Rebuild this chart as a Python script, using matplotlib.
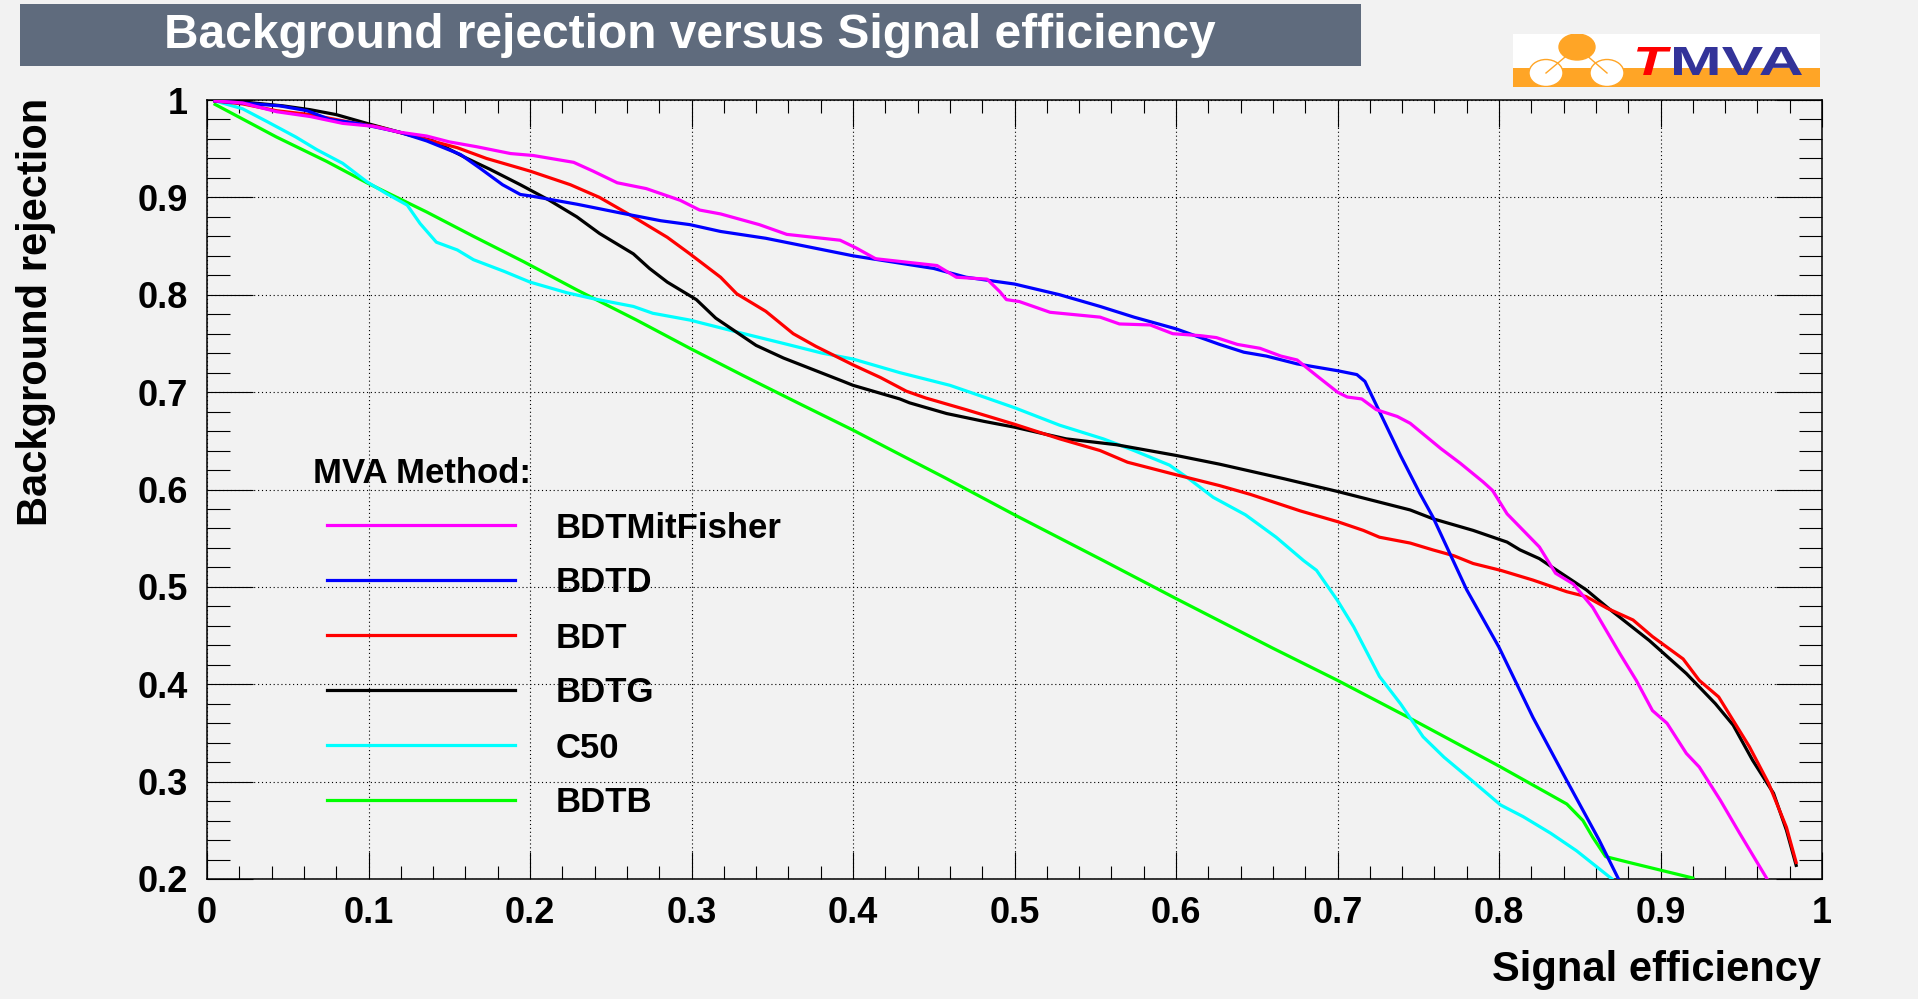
import matplotlib
matplotlib.use("Agg")
import matplotlib.pyplot as plt
from matplotlib.patches import Rectangle, Ellipse, PathPatch
from matplotlib.lines import Line2D
from matplotlib.textpath import TextPath
from matplotlib.font_manager import FontProperties
from matplotlib.transforms import Affine2D
from matplotlib.ticker import MultipleLocator, FuncFormatter

plt.rcParams['font.family'] = ['Liberation Sans', 'DejaVu Sans']
plt.rcParams['font.weight'] = 'bold'

# ROC curves (signal efficiency, background rejection)
fisher_x = [0.005, 0.022, 0.043, 0.064, 0.084, 0.103, 0.119, 0.136, 0.150, 0.167, 0.188, 0.202,
            0.227, 0.239, 0.254, 0.272, 0.293, 0.305, 0.318, 0.342, 0.359, 0.392, 0.402, 0.414,
            0.452, 0.464, 0.483, 0.491, 0.495, 0.503, 0.522, 0.553, 0.565, 0.584, 0.598, 0.615,
            0.625, 0.638, 0.652, 0.665, 0.675, 0.687, 0.700, 0.706, 0.715, 0.724, 0.737, 0.745,
            0.764, 0.776, 0.790, 0.796, 0.805, 0.825, 0.835, 0.846, 0.858, 0.875, 0.885, 0.895,
            0.904, 0.916, 0.924, 0.937, 0.949, 0.966]
fisher_y = [0.999, 0.997, 0.988, 0.983, 0.976, 0.973, 0.967, 0.963, 0.957, 0.952, 0.945, 0.943,
            0.936, 0.927, 0.915, 0.909, 0.897, 0.887, 0.883, 0.872, 0.862, 0.856, 0.848, 0.837,
            0.830, 0.818, 0.816, 0.803, 0.795, 0.793, 0.782, 0.777, 0.770, 0.769, 0.760, 0.758,
            0.756, 0.749, 0.745, 0.737, 0.733, 0.717, 0.700, 0.695, 0.693, 0.682, 0.675, 0.668,
            0.642, 0.627, 0.608, 0.599, 0.575, 0.541, 0.514, 0.503, 0.479, 0.431, 0.404, 0.373,
            0.360, 0.329, 0.315, 0.281, 0.247, 0.200]

bdtd_x = [0.005, 0.045, 0.062, 0.076, 0.093, 0.105, 0.119, 0.136, 0.157, 0.169, 0.183, 0.194,
          0.202, 0.229, 0.256, 0.281, 0.299, 0.318, 0.346, 0.400, 0.450, 0.470, 0.500, 0.528,
          0.553, 0.574, 0.600, 0.627, 0.642, 0.656, 0.675, 0.700, 0.712, 0.717, 0.726, 0.739,
          0.751, 0.759, 0.780, 0.800, 0.821, 0.842, 0.862, 0.874]
bdtd_y = [0.999, 0.994, 0.989, 0.980, 0.976, 0.972, 0.967, 0.958, 0.944, 0.930, 0.913, 0.903,
          0.901, 0.893, 0.884, 0.876, 0.872, 0.865, 0.858, 0.840, 0.827, 0.818, 0.811, 0.800,
          0.788, 0.777, 0.765, 0.749, 0.741, 0.737, 0.729, 0.722, 0.718, 0.711, 0.680, 0.635,
          0.596, 0.572, 0.497, 0.438, 0.366, 0.301, 0.240, 0.200]

bdt_x = [0.005, 0.022, 0.043, 0.064, 0.086, 0.107, 0.130, 0.155, 0.173, 0.200, 0.225, 0.243,
         0.264, 0.285, 0.299, 0.318, 0.328, 0.346, 0.363, 0.377, 0.400, 0.417, 0.433, 0.445,
         0.470, 0.500, 0.528, 0.553, 0.570, 0.598, 0.627, 0.646, 0.677, 0.700, 0.716, 0.726,
         0.745, 0.759, 0.772, 0.784, 0.801, 0.821, 0.842, 0.854, 0.867, 0.883, 0.895, 0.914,
         0.924, 0.936, 0.955, 0.967, 0.978, 0.984]
bdt_y = [0.999, 0.996, 0.989, 0.985, 0.978, 0.972, 0.962, 0.951, 0.940, 0.927, 0.913, 0.900,
         0.880, 0.859, 0.842, 0.818, 0.801, 0.783, 0.760, 0.747, 0.728, 0.715, 0.701, 0.694,
         0.682, 0.667, 0.652, 0.640, 0.628, 0.616, 0.604, 0.595, 0.578, 0.567, 0.558, 0.551,
         0.545, 0.538, 0.532, 0.524, 0.517, 0.507, 0.495, 0.490, 0.478, 0.466, 0.449, 0.426,
         0.404, 0.387, 0.336, 0.298, 0.253, 0.217]

bdtg_x = [0.005, 0.022, 0.047, 0.064, 0.080, 0.099, 0.119, 0.140, 0.161, 0.175, 0.194, 0.212,
          0.229, 0.243, 0.264, 0.274, 0.285, 0.303, 0.315, 0.340, 0.357, 0.394, 0.400, 0.429,
          0.435, 0.458, 0.481, 0.500, 0.532, 0.563, 0.600, 0.627, 0.667, 0.700, 0.745, 0.759,
          0.784, 0.805, 0.813, 0.825, 0.834, 0.854, 0.867, 0.893, 0.916, 0.934, 0.945, 0.957,
          0.970, 0.978, 0.984]
bdtg_y = [0.999, 0.998, 0.994, 0.990, 0.985, 0.976, 0.967, 0.958, 0.940, 0.929, 0.913, 0.897,
          0.880, 0.863, 0.842, 0.827, 0.813, 0.795, 0.776, 0.748, 0.735, 0.711, 0.707, 0.693,
          0.689, 0.678, 0.670, 0.664, 0.652, 0.646, 0.635, 0.626, 0.611, 0.598, 0.579, 0.570,
          0.558, 0.546, 0.538, 0.529, 0.519, 0.497, 0.479, 0.445, 0.411, 0.380, 0.358, 0.322,
          0.288, 0.250, 0.214]

c50_x = [0.005, 0.022, 0.037, 0.055, 0.068, 0.084, 0.099, 0.111, 0.124, 0.132, 0.142, 0.155,
         0.165, 0.184, 0.200, 0.223, 0.239, 0.264, 0.276, 0.299, 0.330, 0.357, 0.381, 0.400,
         0.429, 0.460, 0.481, 0.500, 0.528, 0.555, 0.574, 0.596, 0.608, 0.623, 0.643, 0.662,
         0.679, 0.687, 0.700, 0.710, 0.726, 0.739, 0.753, 0.766, 0.784, 0.801, 0.815, 0.832,
         0.848, 0.870]
c50_y = [0.999, 0.991, 0.978, 0.962, 0.949, 0.935, 0.916, 0.904, 0.892, 0.873, 0.854, 0.846,
         0.836, 0.824, 0.813, 0.802, 0.796, 0.788, 0.781, 0.774, 0.761, 0.750, 0.740, 0.734,
         0.720, 0.707, 0.695, 0.684, 0.666, 0.652, 0.640, 0.625, 0.611, 0.592, 0.574, 0.551,
         0.527, 0.517, 0.486, 0.459, 0.408, 0.380, 0.346, 0.325, 0.300, 0.276, 0.264, 0.247,
         0.229, 0.200]

bdtb_x = [0.005, 0.043, 0.074, 0.099, 0.136, 0.165, 0.196, 0.229, 0.266, 0.299, 0.332, 0.367,
          0.400, 0.429, 0.457, 0.500, 0.555, 0.600, 0.660, 0.700, 0.745, 0.800, 0.842, 0.852,
          0.858, 0.866, 0.883, 0.920]
bdtb_y = [0.9955, 0.962, 0.937, 0.915, 0.885, 0.860, 0.834, 0.805, 0.774, 0.745, 0.717, 0.688,
          0.661, 0.636, 0.612, 0.574, 0.527, 0.488, 0.437, 0.404, 0.365, 0.316, 0.277, 0.260,
          0.243, 0.223, 0.216, 0.201]

methods = ["BDTMitFisher", "BDTD", "BDT", "BDTG", "C50", "BDTB"]
colors = ["#ff00ff", "#0000ff", "#ff0000", "#000000", "#00ffff", "#00ff00"]
curves = [(fisher_x, fisher_y), (bdtd_x, bdtd_y), (bdt_x, bdt_y),
          (bdtg_x, bdtg_y), (c50_x, c50_y), (bdtb_x, bdtb_y)]

W, H = 1918, 999
bg = "#f2f2f2"

fig = plt.figure(figsize=(W / 100, H / 100), dpi=100, facecolor=bg)


def fx(px):
    return px / W


def fy(py):
    return 1 - py / H


# main frame
ax = fig.add_axes([fx(207), fy(879), (1822 - 207) / W, (879 - 100) / H])
ax.set_facecolor(bg)

# draw last legend entry first so BDTMitFisher ends up on top
for (xs, ys), c in reversed(list(zip(curves, colors))):
    ax.plot(xs, ys, color=c, lw=2.3, zorder=3)

ax.set_xlim(0, 1)
ax.set_ylim(0.2, 1)
ax.xaxis.set_major_locator(MultipleLocator(0.1))
ax.xaxis.set_minor_locator(MultipleLocator(0.02))
ax.yaxis.set_major_locator(MultipleLocator(0.1))
ax.yaxis.set_minor_locator(MultipleLocator(0.02))
fmt = FuncFormatter(lambda v, pos: "%g" % round(v, 2))
ax.xaxis.set_major_formatter(fmt)
ax.yaxis.set_major_formatter(fmt)

ax.grid(True, which="major", color="black", linestyle=(0, (1, 2.5)), lw=0.8, zorder=1)
ax.tick_params(which="both", direction="in", top=True, right=True, width=0.8,
               labelsize=26, color="black")
ax.tick_params(axis="x", which="major", length=19.5, pad=12.5)
ax.tick_params(axis="x", which="minor", length=9.5)
ax.tick_params(axis="y", which="major", length=33, pad=14)
ax.tick_params(axis="y", which="minor", length=16.5)
for lab in ax.get_xticklabels() + ax.get_yticklabels():
    lab.set_fontweight("bold")
for sp in ax.spines.values():
    sp.set_linewidth(1.1)

# axis titles
fig.text(fx(36), fy(98), "Background rejection", rotation=90, ha="center", va="top",
         fontsize=30, fontweight="bold")
fig.text(fx(1821), fy(981), "Signal efficiency", ha="right", va="baseline",
         fontsize=30, fontweight="bold")

# title bar
fig.patches.append(Rectangle((fx(20), fy(66)), (1361 - 20) / W, 62 / H,
                             transform=fig.transFigure, facecolor="#5f6b7d",
                             edgecolor="none", zorder=0))
fig.text(fx(164), fy(48), "Background rejection versus Signal efficiency",
         color="white", ha="left", va="baseline", fontsize=34.5, fontweight="bold")

# legend
fig.text(fx(313), fy(483), "MVA Method:", ha="left", va="baseline",
         fontsize=25, fontweight="bold")
row_y = [525, 580, 635, 690, 745, 800]
for name, c, ry in zip(methods, colors, row_y):
    fig.add_artist(Line2D([fx(327), fx(515)], [fy(ry), fy(ry)], color=c, lw=2.3,
                          transform=fig.transFigure))
    fig.text(fx(556), fy(ry + 12.5), name, ha="left", va="baseline",
             fontsize=25, fontweight="bold")

# TMVA logo (local pixel units, y up)
lax = fig.add_axes([fx(1513), fy(87), 307 / W, 53 / H])
lax.set_xlim(0, 307)
lax.set_ylim(0, 53)
lax.axis("off")
orange = "#ffa526"
lax.add_patch(Rectangle((0, 0), 307, 53, facecolor="white", edgecolor="none"))
lax.add_patch(Rectangle((0, 0), 307, 19, facecolor=orange, edgecolor="none"))
lax.plot([33, 64, 94], [14, 40, 14], color=orange, lw=1)
lax.add_patch(Ellipse((64, 40), 36, 26, facecolor=orange, edgecolor=orange))
lax.add_patch(Ellipse((33, 14), 34, 27, facecolor="white", edgecolor=orange, lw=1))
lax.add_patch(Ellipse((94, 14), 34, 27, facecolor="white", edgecolor=orange, lw=1))


def logo_text(s, x0, x1, y0, y1, color, style):
    prop = FontProperties(family="Liberation Sans", weight="bold", style=style)
    tp = TextPath((0, 0), s, size=1, prop=prop)
    ext = tp.get_extents()
    tr = (Affine2D().translate(-ext.x0, -ext.y0)
          .scale((x1 - x0) / ext.width, (y1 - y0) / ext.height).translate(x0, y0))
    lax.add_patch(PathPatch(tr.transform_path(tp), facecolor=color, edgecolor="none"))


logo_text("T", 124, 158, 12, 40, "#ff0000", "italic")
logo_text("MVA", 161, 289, 12, 40, "#333399", "normal")

fig.savefig("out.png", dpi=100, facecolor=bg)
